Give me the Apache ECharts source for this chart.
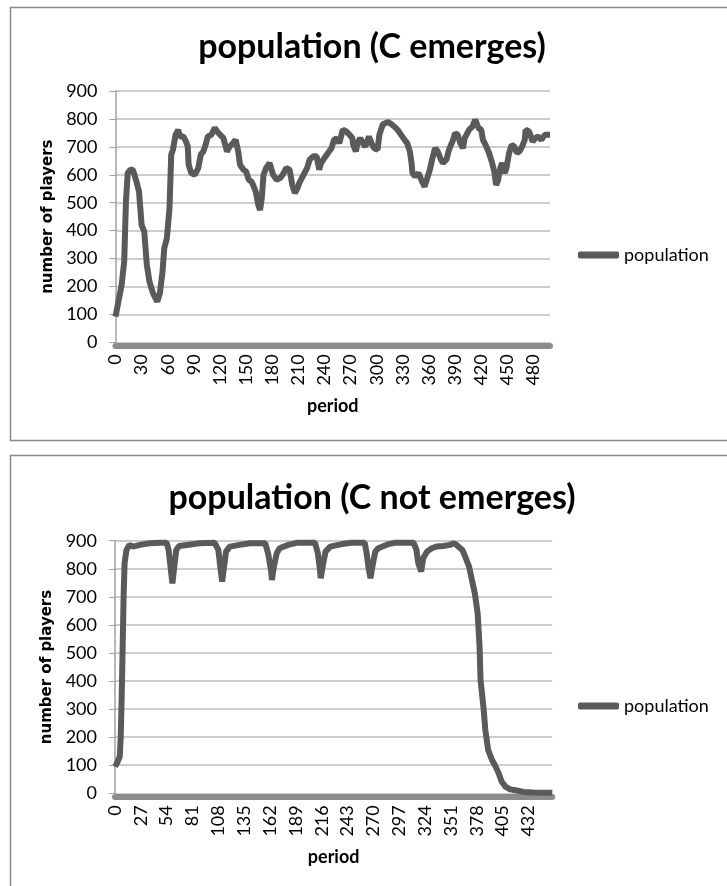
<!DOCTYPE html>
<html>
<head>
<meta charset="utf-8">
<script src="https://cdn.jsdelivr.net/npm/echarts/dist/echarts.min.js"></script>
<style>
  html, body { margin: 0; padding: 0; background: #fff; }
  #chart { width: 727px; height: 886px; }
</style>
</head>
<body>
<div id="chart"></div>
<script>
// chart 1: population (C emerges)
var topPeriods = [0, 2, 7, 10, 12, 14, 17, 20, 22, 24, 27, 30, 33, 36, 39, 43, 45, 48, 51, 54,
    56, 59, 62, 64, 66, 69, 72, 74, 78, 81, 83, 84, 87, 91, 95, 98, 101, 104, 106, 110,
    114, 118, 124, 128, 131, 135, 138, 141, 143, 147, 150, 153, 156, 158, 161, 164, 166, 168, 170, 173,
    177, 181, 185, 189, 192, 196, 200, 203, 206, 209, 211, 215, 220, 223, 227, 231, 234, 236, 240, 244,
    248, 251, 254, 257, 261, 265, 269, 272, 273, 276, 278, 281, 284, 287, 291, 294, 297, 301, 303, 307,
    313, 317, 320, 324, 328, 332, 335, 338, 340, 341, 344, 348, 352, 355, 358, 361, 364, 367, 370, 373,
    376, 380, 383, 387, 390, 393, 396, 399, 401, 403, 406, 410, 413, 417, 420, 422, 425, 429, 432, 435,
    437, 439, 442, 444, 447, 449, 452, 455, 458, 461, 464, 467, 470, 471, 475, 477, 479, 482, 485, 489,
    493, 495, 499];
var topValues = [92, 98, 205, 289, 504, 606, 618, 618, 624, 576, 540, 420, 397, 277, 217, 176, 164, 146, 176, 253,
    337, 373, 480, 672, 690, 743, 761, 737, 737, 719, 701, 636, 606, 600, 624, 672, 684, 713, 737, 743,
    768, 750, 731, 683, 701, 713, 725, 683, 636, 618, 612, 582, 576, 564, 540, 492, 474, 516, 600, 624,
    642, 600, 582, 588, 600, 624, 618, 564, 534, 552, 570, 594, 624, 654, 666, 666, 618, 642, 660, 678,
    695, 725, 731, 713, 761, 755, 743, 731, 707, 684, 713, 731, 713, 701, 737, 713, 695, 690, 743, 781,
    789, 781, 773, 761, 743, 725, 713, 684, 642, 606, 594, 606, 576, 558, 588, 618, 660, 695, 684, 660,
    642, 654, 690, 719, 749, 743, 713, 695, 731, 743, 761, 773, 797, 767, 761, 725, 707, 678, 648, 612,
    564, 576, 624, 642, 606, 624, 678, 707, 701, 678, 684, 701, 725, 761, 755, 749, 719, 731, 737, 725,
    743, 749, 743];
var topTicks = [0, 30, 60, 90, 120, 150, 180, 210, 240, 270, 300, 330, 360, 390, 420, 450, 480];

// chart 2: population (C not emerges)
var bottomPeriods = [0, 2, 5, 6, 7, 8, 9, 10, 12, 15, 19, 26, 36, 47, 54, 56, 58, 60, 62, 64,
    67, 75, 88, 104, 108, 110, 112, 114, 116, 120, 130, 141, 157, 160, 163, 164, 166, 169, 172, 181,
    191, 209, 212, 214, 215, 217, 220, 225, 237, 247, 261, 263, 265, 267, 269, 272, 275, 286, 293, 312,
    315, 317, 320, 322, 326, 331, 336, 343, 350, 354, 357, 363, 366, 370, 373, 376, 379, 381, 382, 385,
    387, 390, 394, 397, 401, 404, 408, 413, 420, 427, 437, 457];
var bottomValues = [95, 107, 131, 202, 344, 522, 700, 819, 867, 885, 879, 885, 891, 893, 893, 867, 808, 748, 808, 867,
    881, 885, 891, 893, 867, 808, 754, 808, 861, 879, 885, 891, 891, 855, 796, 760, 808, 855, 873, 885,
    893, 893, 855, 802, 766, 808, 861, 879, 888, 893, 893, 855, 802, 766, 808, 861, 873, 888, 893, 893,
    867, 819, 790, 837, 861, 873, 879, 881, 885, 891, 885, 867, 843, 808, 760, 713, 641, 523, 404, 309,
    226, 154, 119, 101, 71, 42, 24, 14, 10, 5, 3, 2];
var bottomTicks = [0, 27, 54, 81, 108, 135, 162, 189, 216, 243, 270, 297, 324, 351, 378, 405, 432];

var lineColor = '#5a5a5a';
var font = 'Lato';

function pairs(xs, ys) {
    var out = [];
    for (var i = 0; i < xs.length; i++) {
        out.push([xs[i], ys[i]]);
    }
    return out;
}

function makeX(idx, max, ticks) {
    return {
        gridIndex: idx,
        type: 'value',
        min: 0,
        max: max,
        offset: 3,
        axisLine: {show: true, onZero: false, lineStyle: {color: '#8c8c8c', width: 6}},
        axisTick: {show: false},
        splitLine: {show: false},
        axisLabel: {rotate: 90, margin: 9, customValues: ticks, fontFamily: font, fontSize: 18, color: '#000'},
        name: 'period',
        nameLocation: 'middle',
        nameGap: 52,
        nameTextStyle: {fontFamily: font, fontWeight: 'bold', fontSize: 18, color: '#000'}
    };
}

function makeY(idx) {
    return {
        gridIndex: idx,
        type: 'value',
        min: 0,
        max: 900,
        interval: 100,
        axisLine: {show: true, lineStyle: {color: '#a0a0a0', width: 1.5}},
        axisTick: {show: true, length: 6, lineStyle: {color: '#a0a0a0'}},
        splitLine: {lineStyle: {color: '#bdbdbd', width: 1.5}},
        axisLabel: {margin: 18, fontFamily: font, fontSize: 18, color: '#000'},
        name: 'number of players',
        nameLocation: 'middle',
        nameGap: 56,
        nameTextStyle: {fontFamily: 'DejaVu Sans', fontWeight: 'bold', fontSize: 15, color: '#000'}
    };
}

function makeLegend(top) {
    return {
        left: 578,
        top: top,
        padding: 0,
        data: ['population'],
        icon: 'roundRect',
        itemWidth: 41,
        itemHeight: 7,
        textStyle: {fontFamily: font, fontSize: 18, color: '#000', lineHeight: 20}
    };
}

function makeTitle(text, top) {
    return {
        text: text,
        left: 372,
        top: top,
        padding: 0,
        textAlign: 'center',
        textStyle: {fontFamily: font, fontWeight: 'bold', fontSize: 34, lineHeight: 40, color: '#000'}
    };
}

var chart = echarts.init(document.getElementById('chart'));

var option = {
    animation: false,
    backgroundColor: '#fff',
    graphic: [
        {type: 'rect', shape: {x: 10.5, y: 7.5, width: 800, height: 433}, style: {fill: 'none', stroke: '#8a8a8a', lineWidth: 1.5}},
        {type: 'rect', shape: {x: 10.5, y: 455.5, width: 800, height: 500}, style: {fill: 'none', stroke: '#8a8a8a', lineWidth: 1.5}}
    ],
    title: [
        makeTitle('population (C emerges)', 27),
        makeTitle('population (C not emerges)', 478)
    ],
    legend: [makeLegend(245), makeLegend(696)],
    grid: [
        {left: 115.5, right: 177, top: 91, bottom: 543.7},
        {left: 115, right: 174.7, top: 540.7, bottom: 92.7}
    ],
    xAxis: [makeX(0, 499, topTicks), makeX(1, 457, bottomTicks)],
    yAxis: [makeY(0), makeY(1)],
    series: [
        {
            name: 'population', type: 'line', xAxisIndex: 0, yAxisIndex: 0,
            data: pairs(topPeriods, topValues),
            showSymbol: false, symbol: 'none', z: 3,
            lineStyle: {color: lineColor, width: 6},
            itemStyle: {color: lineColor}
        },
        {
            name: 'population', type: 'line', xAxisIndex: 1, yAxisIndex: 1,
            data: pairs(bottomPeriods, bottomValues),
            showSymbol: false, symbol: 'none', z: 3,
            lineStyle: {color: lineColor, width: 6},
            itemStyle: {color: lineColor}
        }
    ]
};

chart.setOption(option);
</script>
</body>
</html>
